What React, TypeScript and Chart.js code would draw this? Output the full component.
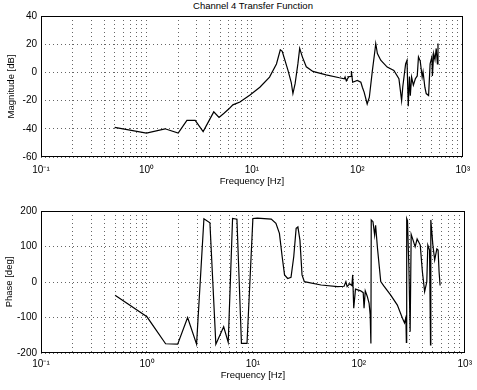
import React, { useEffect, useRef } from "react";
import { Chart, registerables } from "chart.js";

Chart.register(...registerables);

// ---- Data ----
const magFreq = [
  0.5, 1.0, 1.5, 2.0, 2.42, 2.9, 3.45, 4.35, 4.88, 5.44, 6.03, 6.6, 7.7, 9.6,
  11.9, 14.7, 17.1, 18.6, 19.4, 22, 23.6, 24.5, 25.7, 27.3, 28.4, 30.1, 32.8,
  37.9, 50.6, 67.6, 75.3, 76.5, 78.6, 83, 87.5, 87.8, 90.3, 100, 108, 111.6,
  116, 124, 130, 139, 147, 149.5, 155, 166.7, 192, 222, 248, 263, 270, 287,
  296, 304, 312, 318, 327, 340, 355, 370, 380, 395, 412, 420, 437, 450, 474,
  490, 510, 515, 530, 545, 560, 575, 582,
];
const magDb = [
  -39, -43, -40, -43, -34, -34, -42, -28, -32, -29, -26, -23, -21, -16,
  -10.5, -3.3, 6, 16, 15, 1.4, -7, -15, -8, 6, 17, 11, 4,
  0.7, -1.7, -3.8, -4.5, -3.3, -6, -3, -2.9, 1, -7, -5.7, -7, -10.5,
  -14, -22.4, -17.6, 1.4, 15.7, 20.5, 13.4, 8.6, 3.8, 1.4, -4.5, -20, -10, 6,
  8.6, -24, -3, -16.6, -3.3, -9, -4.5, -2.5, 11, 8, -3.3, 0.5, -10.5, -15, -16.4,
  6, 11, -2.6, 13.4, 9, 17, 6, 20.5,
];

const phaseFreq = [
  0.5, 1.0, 1.5, 1.95, 2.42, 2.94, 3.45, 3.93, 4.47, 5.3, 5.85, 6.43, 7.07,
  7.8, 8.8, 10, 11, 14.9, 16.5, 17.8, 18.9, 19.9, 21.3, 22.9, 24.3, 25.6, 26.6,
  27.8, 29.1, 30.6, 44, 63, 72.6, 75.5, 77.5, 82, 86, 87.5, 89.5, 93, 104, 110,
  112, 115, 120, 125, 128, 130, 131, 136, 141, 144, 150, 161, 172, 200, 231,
  258, 270, 278, 281, 283, 288, 297, 305, 312, 325, 340, 355, 380, 398, 418,
  438, 448, 465, 475, 478, 500, 520, 545, 560, 572, 585,
];
const phaseDeg = [
  -37, -98, -174, -175, -100, -175, 178, 167, -175, -126, -170, 179, 177,
  -173, -173, 179, 180, 177, 165, 137, 71, 20, 10, 13, 71, 151, 155,
  118, 20, 1, -8.5, -13, -12, 1, -13, -5, -10, 20, -74, -20, -25, -30,
  -74, -25, -40, -60, -93, -173, 175, 170, 132, 160, 95, 1, -11, -37, -65,
  -102, -115, -100, -170, 179, 173, 39, -140, 134, 118, 99, 121, 104, 29, -27,
  0, 104, 90, -177, 175, 104, 62, 93, 90, 29, -10,
];

const decadeExps = [-1, 0, 1, 2, 3];
const decadeLabels = ["10\u207B\u00B9", "10\u2070", "10\u00B9", "10\u00B2", "10\u00B3"];
const magTicks = [-60, -40, -20, 0, 20, 40];
const phaseTicks = [-200, -100, 0, 100, 200];

const titleText = "Channel 4 Transfer Function";
const magLabel = "Magnitude [dB]";
const phaseLabel = "Phase [deg]";
const freqLabel = "Frequency [Hz]";

const FONT = "'Liberation Sans', Arial, Helvetica, sans-serif";

function logTickValues(): number[] {
  const vals: number[] = [];
  for (let i = 0; i < decadeExps.length - 1; i++) {
    for (let m = 1; m <= 9; m++) {
      vals.push(parseFloat((m * Math.pow(10, decadeExps[i])).toPrecision(6)));
    }
  }
  vals.push(Math.pow(10, decadeExps[decadeExps.length - 1]));
  return vals;
}

function decadeLabel(v: number): string {
  for (let i = 0; i < decadeExps.length; i++) {
    const d = Math.pow(10, decadeExps[i]);
    if (Math.abs(v - d) / d < 1e-6) return decadeLabels[i];
  }
  return "";
}

const framePlugin = {
  id: "frame",
  afterDraw(chart: any) {
    const { ctx, chartArea } = chart;
    const l = Math.round(chartArea.left) + 0.5;
    const t = Math.round(chartArea.top) + 0.5;
    const r = Math.round(chartArea.right) - 0.5;
    const b = Math.round(chartArea.bottom) - 0.5;
    ctx.save();
    ctx.strokeStyle = "#000";
    ctx.lineWidth = 1;
    ctx.strokeRect(l, t, r - l, b - t);
    ctx.restore();
  },
};

function makeConfig(
  xs: number[],
  ys: number[],
  yTicks: number[],
  yLabel: string,
  opts: { padTop: number; xHeight: number; xTickPad: number; xTitlePad: number; yTitlePad: number }
): any {
  const data = xs.map((x, i) => ({ x, y: ys[i] }));
  const gridColor = "rgba(0,0,0,0.6)";
  return {
    type: "scatter",
    data: {
      datasets: [
        {
          data,
          showLine: true,
          borderColor: "#000",
          borderWidth: 1.2,
          pointRadius: 0,
          fill: false,
          tension: 0,
        },
      ],
    },
    options: {
      animation: false,
      responsive: false,
      maintainAspectRatio: false,
      layout: { padding: { top: opts.padTop, right: 12, left: 0, bottom: 0 } },
      plugins: { legend: { display: false }, tooltip: { enabled: false }, title: { display: false } },
      scales: {
        x: {
          type: "logarithmic",
          min: 0.1,
          max: 1000,
          afterBuildTicks: (scale: any) => {
            scale.ticks = logTickValues().map((v) => ({ value: v }));
          },
          afterFit: (scale: any) => {
            scale.height = opts.xHeight;
          },
          ticks: {
            autoSkip: false,
            maxRotation: 0,
            minRotation: 0,
            padding: opts.xTickPad,
            color: "#000",
            font: { family: FONT, size: 10 },
            callback: (v: any) => decadeLabel(Number(v)),
          },
          grid: { color: gridColor, lineWidth: 1, drawTicks: false },
          border: { display: false, dash: [1, 3] },
          title: {
            display: true,
            text: freqLabel,
            color: "#000",
            font: { family: FONT, size: 9.5 },
            padding: { top: 0, bottom: opts.xTitlePad },
          },
        },
        y: {
          type: "linear",
          min: yTicks[0],
          max: yTicks[yTicks.length - 1],
          afterBuildTicks: (scale: any) => {
            scale.ticks = yTicks.map((v) => ({ value: v }));
          },
          afterFit: (scale: any) => {
            scale.width = 41;
          },
          ticks: {
            autoSkip: false,
            padding: 4,
            color: "#000",
            font: { family: FONT, size: 10 },
            callback: (v: any) => String(v),
          },
          grid: { color: gridColor, lineWidth: 1, drawTicks: false },
          border: { display: false, dash: [1, 3] },
          title: {
            display: true,
            text: yLabel,
            color: "#000",
            font: { family: FONT, size: 9.5 },
            padding: { top: opts.yTitlePad, bottom: 0 },
          },
        },
      },
    },
    plugins: [framePlugin],
  };
}

export default function App() {
  const topRef = useRef<HTMLCanvasElement>(null);
  const botRef = useRef<HTMLCanvasElement>(null);

  useEffect(() => {
    const c1 = new Chart(
      topRef.current as HTMLCanvasElement,
      makeConfig(magFreq, magDb, magTicks, magLabel, {
        padTop: 16,
        xHeight: 33,
        xTickPad: 7,
        xTitlePad: 3,
        yTitlePad: 6,
      })
    );
    const c2 = new Chart(
      botRef.current as HTMLCanvasElement,
      makeConfig(phaseFreq, phaseDeg, phaseTicks, phaseLabel, {
        padTop: 21,
        xHeight: 37,
        xTickPad: 5,
        xTitlePad: 9,
        yTitlePad: 4,
      })
    );
    return () => {
      c1.destroy();
      c2.destroy();
    };
  }, []);

  return (
    <div style={{ position: "absolute", left: 0, top: 0, width: 477, height: 390, background: "#fff" }}>
      <div
        style={{
          position: "absolute",
          left: 41,
          top: 0,
          width: 424,
          textAlign: "center",
          fontFamily: FONT,
          fontSize: 9.5,
          lineHeight: "11px",
          color: "#000",
        }}
      >
        {titleText}
      </div>
      <canvas
        ref={topRef}
        width={477}
        height={190}
        style={{ position: "absolute", left: 0, top: 0, width: 477, height: 190 }}
      />
      <canvas
        ref={botRef}
        width={477}
        height={200}
        style={{ position: "absolute", left: 0, top: 190, width: 477, height: 200 }}
      />
    </div>
  );
}
